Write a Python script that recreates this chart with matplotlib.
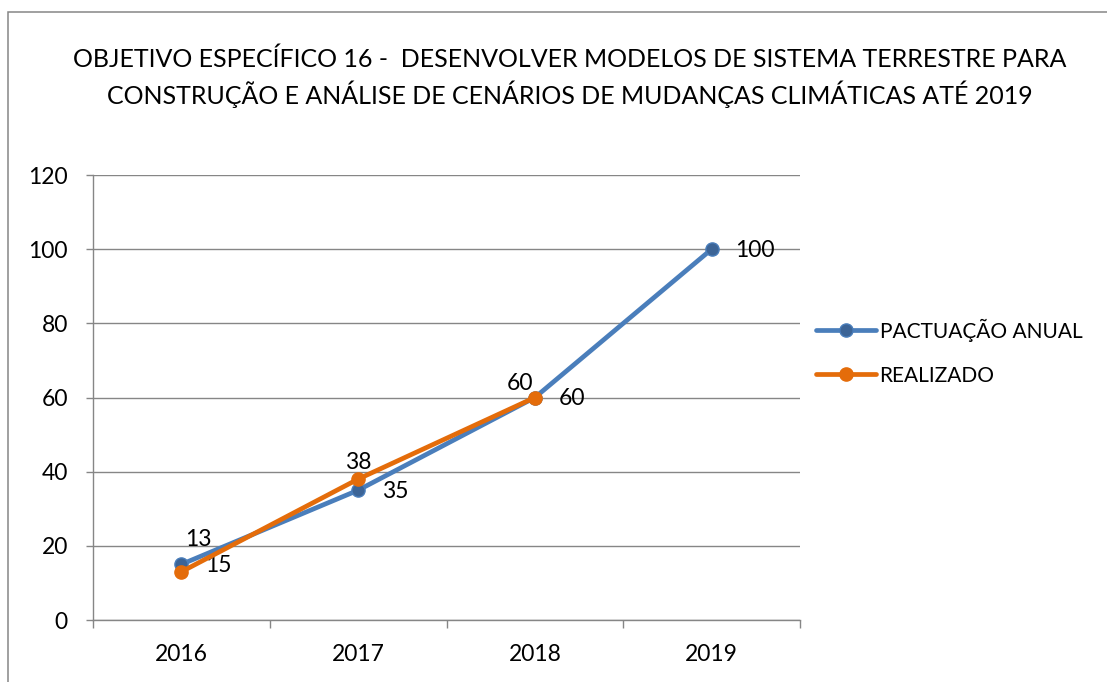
import matplotlib
matplotlib.use("Agg")
import matplotlib.pyplot as plt
from matplotlib.patches import Rectangle

# ========================== Data ==========================
years = ["2016", "2017", "2018", "2019"]
pactuacao = [15, 35, 60, 100]
realizado = [13, 38, 60]

title = ("OBJETIVO ESPECÍFICO 16 -  DESENVOLVER MODELOS DE SISTEMA TERRESTRE PARA\n"
         "CONSTRUÇÃO E ANÁLISE DE CENÁRIOS DE MUDANÇAS CLIMÁTICAS ATÉ 2019")

# ========================== Settings ==========================
plt.rcParams["font.family"] = ["Lato", "DejaVu Sans"]
BLUE = "#4A7EBB"
BLUE_DARK = "#3C6496"
ORANGE = "#E46C0A"
GRID = "#868686"
FS = 16.5

# label offsets (points) for the orange labels, placed above the points
real_offsets = [(12, 23), (0, 12), (-11, 10)]

# ========================== Plot ==========================
fig = plt.figure(figsize=(11.07, 6.82), dpi=100)
ax = fig.add_axes([0.0840, 0.0909, 0.6387, 0.6525])

# outer frame of the chart
fig.patches.append(Rectangle((8 / 1107, -0.5), 2, 1.5 - 12 / 682, transform=fig.transFigure,
                             fill=False, edgecolor=GRID, lw=1.1))

x_p = list(range(len(pactuacao)))
x_r = list(range(len(realizado)))

ax.plot(x_p, pactuacao, color=BLUE, lw=3.4, marker="o", ms=9.5,
        mfc=BLUE_DARK, mec=BLUE, mew=1, label="PACTUAÇÃO ANUAL", zorder=3,
        solid_capstyle="round")
ax.plot(x_r, realizado, color=ORANGE, lw=3.4, marker="o", ms=9.5,
        mfc=ORANGE, mec=ORANGE, label="REALIZADO", zorder=4,
        solid_capstyle="round")

for xi, v in zip(x_p, pactuacao):
    ax.annotate(str(v), (xi, v), xytext=(17, -1), textcoords="offset points",
                ha="left", va="center", fontsize=FS)
for (xi, v), off in zip(zip(x_r, realizado), real_offsets):
    ax.annotate(str(v), (xi, v), xytext=off, textcoords="offset points",
                ha="center", va="center", fontsize=FS)

# Axes formatting
ax.set_xlim(-0.5, 3.5)
ax.set_ylim(0, 120)
ax.set_yticks(range(0, 121, 20))
ax.set_xticks([-0.5, 0.5, 1.5, 2.5, 3.5])
ax.set_xticklabels([])
ax.set_xticks(x_p, minor=True)
ax.set_xticklabels(years, minor=True)
ax.tick_params(axis="x", which="major", length=5.5, color=GRID, width=1)
ax.tick_params(axis="x", which="minor", length=0, pad=17, labelsize=FS)
ax.tick_params(axis="y", length=5, color=GRID, width=1, pad=13, labelsize=FS)

ax.grid(axis="y", color=GRID, lw=1)
ax.set_axisbelow(True)
for s in ["top", "right"]:
    ax.spines[s].set_visible(False)
for s in ["left", "bottom"]:
    ax.spines[s].set_color(GRID)
    ax.spines[s].set_linewidth(1)

fig.text(0.515, 1 - 78 / 682, title, ha="center", va="center", fontsize=18,
         linespacing=1.4)

fig.legend(loc="center left", bbox_to_anchor=(816 / 1107, 1 - 352 / 682),
           frameon=False, fontsize=15, handlelength=2.9, handletextpad=0.15,
           labelspacing=1.15, borderpad=0, borderaxespad=0)

plt.savefig("out.png", dpi=100)
